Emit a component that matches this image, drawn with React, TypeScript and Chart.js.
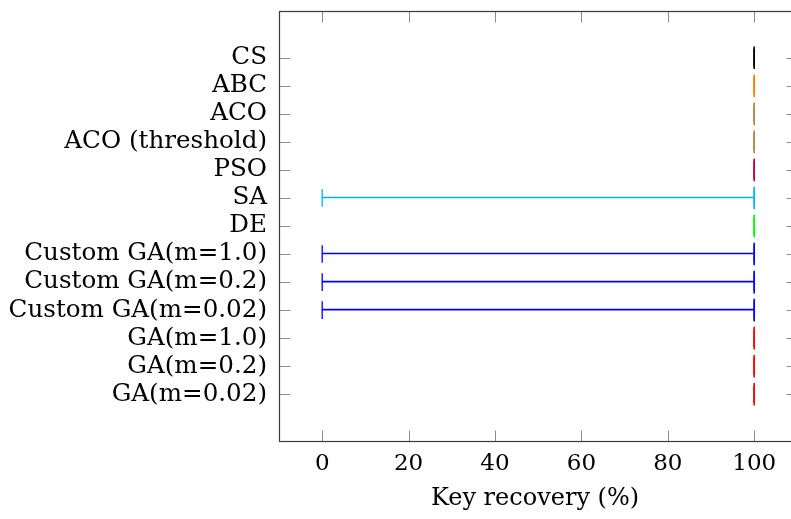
import React, { useEffect, useRef } from 'react';
import { Chart, registerables } from 'chart.js';

Chart.register(...registerables);

// Categories listed bottom-to-top (position 1 is the lowest row)
const categories = [
  'GA(m=0.02)',
  'GA(m=0.2)',
  'GA(m=1.0)',
  'Custom GA(m=0.02)',
  'Custom GA(m=0.2)',
  'Custom GA(m=1.0)',
  'DE',
  'SA',
  'PSO',
  'ACO (threshold)',
  'ACO',
  'ABC',
  'CS',
];

const minValues = [100, 100, 100, 0, 0, 0, 100, 0, 100, 100, 100, 100, 100];
const q1Values = [100, 100, 100, 100, 100, 100, 100, 100, 100, 100, 100, 100, 100];
const medianValues = [100, 100, 100, 100, 100, 100, 100, 100, 100, 100, 100, 100, 100];
const q3Values = [100, 100, 100, 100, 100, 100, 100, 100, 100, 100, 100, 100, 100];
const maxValues = [100, 100, 100, 100, 100, 100, 100, 100, 100, 100, 100, 100, 100];

const xTickValues = [0, 20, 40, 60, 80, 100];
const xAxisTitle = 'Key recovery (%)';

const seriesColors = [
  '#ff0000', '#ff0000', '#ff0000',
  '#0000ff', '#0000ff', '#0000ff',
  '#00ff00',
  '#00b4f0',
  '#c00048',
  '#c08040', '#c08040',
  '#ff8000',
  '#000000',
];

const FONT = "'DejaVu Serif', serif";
const X_MIN = -10;
const X_FRAME_MAX = 110;
const X_VIEW_MAX = 108.52;
const Y_PAD = 1.667;

const positions = categories.map((_, i) => i + 1);

const framePlugin = {
  id: 'pgfFrame',
  beforeDatasetsDraw(chart: any) {
    const { ctx, chartArea } = chart;
    const xs = chart.scales.x;
    const ys = chart.scales.y;
    const left = Math.round(chartArea.left) + 0.5;
    const right = Math.round(xs.getPixelForValue(X_FRAME_MAX)) + 0.5;
    const top = Math.round(chartArea.top) + 0.5;
    const bottom = Math.round(chartArea.bottom) + 0.5;
    const tl = 11;
    ctx.save();
    ctx.strokeStyle = '#8c8c8c';
    ctx.lineWidth = 1;
    ctx.beginPath();
    xs.ticks.forEach((t: any) => {
      const px = Math.round(xs.getPixelForValue(t.value)) + 0.5;
      ctx.moveTo(px, top);
      ctx.lineTo(px, top + tl);
      ctx.moveTo(px, bottom);
      ctx.lineTo(px, bottom - tl);
    });
    ys.ticks.forEach((t: any) => {
      const py = Math.round(ys.getPixelForValue(t.value)) + 0.5;
      ctx.moveTo(left, py);
      ctx.lineTo(left + tl, py);
      ctx.moveTo(right, py);
      ctx.lineTo(right - tl, py);
    });
    ctx.stroke();
    ctx.strokeStyle = '#3a3a3a';
    ctx.lineWidth = 1.2;
    ctx.strokeRect(left, top, right - left, bottom - top);
    ctx.restore();
  },
};

const zeroPadding = (scale: any) => {
  scale.paddingLeft = 0;
  scale.paddingRight = 0;
  scale.paddingTop = 0;
  scale.paddingBottom = 0;
};

export default function App() {
  const canvasRef = useRef<HTMLCanvasElement | null>(null);

  useEffect(() => {
    const canvas = canvasRef.current;
    if (!canvas) return;

    const whiskerData = positions.map((p, i) => ({ y: p, x: [minValues[i], maxValues[i]] }));
    const boxData = positions.map((p, i) => ({ y: p, x: [q1Values[i], q3Values[i]] }));
    const capData: any[] = [];
    const capColors: string[] = [];
    positions.forEach((p, i) => {
      capData.push({ x: minValues[i], y: p });
      capColors.push(seriesColors[i]);
      capData.push({ x: maxValues[i], y: p });
      capColors.push(seriesColors[i]);
    });
    const medianData = positions.map((p, i) => ({ x: medianValues[i], y: p }));

    const chart = new Chart(canvas, {
      data: {
        datasets: [
          {
            type: 'bar',
            indexAxis: 'y',
            data: whiskerData as any,
            backgroundColor: seriesColors,
            barThickness: 1,
            borderWidth: 0,
            xAxisID: 'x',
            yAxisID: 'y',
          } as any,
          {
            type: 'bar',
            indexAxis: 'y',
            data: boxData as any,
            backgroundColor: 'rgba(0,0,0,0)',
            borderColor: seriesColors,
            borderWidth: 1,
            barThickness: 22.6,
            xAxisID: 'x',
            yAxisID: 'y',
          } as any,
          {
            type: 'scatter',
            data: capData,
            pointStyle: 'line',
            pointRotation: 90,
            pointRadius: 8.8,
            pointBorderWidth: 1.3,
            pointBorderColor: capColors,
            pointBackgroundColor: capColors,
            xAxisID: 'x',
            yAxisID: 'y',
          } as any,
          {
            type: 'scatter',
            data: medianData,
            pointStyle: 'line',
            pointRotation: 90,
            pointRadius: 11.3,
            pointBorderWidth: 1.6,
            pointBorderColor: seriesColors,
            pointBackgroundColor: seriesColors,
            xAxisID: 'x',
            yAxisID: 'y',
          } as any,
        ],
      },
      options: {
        responsive: false,
        animation: false,
        events: [],
        layout: { autoPadding: false, padding: { top: 11, left: 0, right: 0, bottom: 0 } },
        plugins: {
          legend: { display: false },
          tooltip: { enabled: false },
        },
        scales: {
          x: {
            type: 'linear',
            position: 'bottom',
            min: X_MIN,
            max: X_VIEW_MAX,
            bounds: 'data',
            offset: false,
            grid: { display: false, drawTicks: false, offset: false },
            border: { display: false },
            afterBuildTicks: (scale: any) => {
              scale.ticks = xTickValues.map((v) => ({ value: v }));
            },
            afterFit: (scale: any) => {
              scale.height = 78;
              zeroPadding(scale);
            },
            ticks: {
              autoSkip: false,
              maxRotation: 0,
              padding: 9,
              color: '#000',
              font: { family: FONT, size: 23 },
              callback: (v: any) => String(v),
            },
            title: {
              display: true,
              text: xAxisTitle,
              color: '#000',
              font: { family: FONT, size: 24 },
              padding: { top: 0, bottom: 6 },
            },
          },
          y: {
            type: 'linear',
            position: 'left',
            min: 1 - Y_PAD,
            max: categories.length + Y_PAD,
            bounds: 'data',
            offset: false,
            grid: { display: false, drawTicks: false, offset: false },
            border: { display: false },
            afterBuildTicks: (scale: any) => {
              scale.ticks = positions.map((p) => ({ value: p }));
            },
            afterFit: (scale: any) => {
              scale.width = 279;
              zeroPadding(scale);
            },
            ticks: {
              autoSkip: false,
              padding: 12,
              color: '#000',
              font: { family: FONT, size: 24.6 },
              callback: (v: any) => categories[Math.round(Number(v)) - 1] ?? '',
            },
          },
        },
      } as any,
      plugins: [framePlugin],
    });

    return () => {
      chart.destroy();
    };
  }, []);

  return (
    <div style={{ position: 'fixed', left: 0, top: 0, width: 791, height: 519, background: '#fff' }}>
      <canvas ref={canvasRef} width={791} height={519} style={{ display: 'block', width: 791, height: 519 }} />
    </div>
  );
}
